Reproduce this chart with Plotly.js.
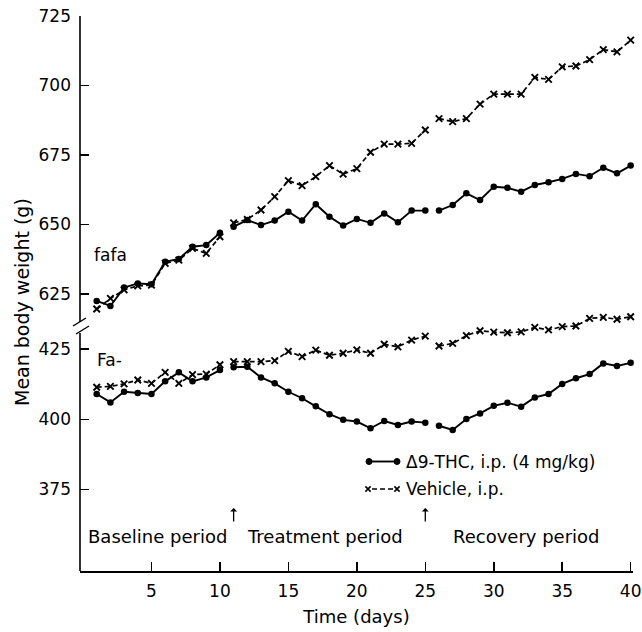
<!DOCTYPE html>
<html><head><meta charset="utf-8">
<script src="https://cdn.plot.ly/plotly-3.0.1.min.js"></script>
<style>html,body{margin:0;padding:0;background:#fff}#chart{width:642px;height:632px}</style>
</head><body><div id="chart"></div>
<script>
// ---- data ----
const days = [1,2,3,4,5,6,7,8,9,10,11,12,13,14,15,16,17,18,19,20,21,22,23,24,25,26,27,28,29,30,31,32,33,34,35,36,37,38,39,40];
const fafaTHC = [622.5,620.7,627.3,628.8,628.5,636.6,637.6,642.0,642.6,647.0,
  649.2,651.6,649.8,651.4,654.6,651.4,657.3,652.8,649.6,652.0,650.6,654.0,650.8,655.0,655.0,
  655.0,657.0,661.2,658.8,663.6,663.2,661.8,664.2,665.2,666.4,668.2,667.4,670.4,668.4,671.2];
const fafaVehicle = [619.6,623.4,626.5,627.9,628.2,636.0,637.2,641.4,639.6,645.6,
  650.6,651.8,655.2,660.0,665.8,664.0,667.2,671.2,668.1,670.1,676.0,678.9,678.9,679.2,684.0,
  688.1,687.0,688.1,693.3,696.9,696.9,696.9,702.9,702.2,706.7,707.0,709.3,712.9,712.1,716.3];
const faTHC = [409.0,406.0,409.8,409.4,409.0,413.5,416.7,413.5,414.9,417.5,
  418.5,418.7,414.9,412.8,409.8,407.5,404.6,401.8,399.8,399.2,396.8,399.4,398.0,399.2,398.8,
  397.7,396.2,400.1,402.1,404.8,405.9,404.5,407.8,409.0,412.6,414.6,416.1,419.9,419.0,420.1];
const faVehicle = [411.4,411.7,412.6,414.0,412.8,416.7,412.8,415.9,416.1,419.4,
  420.5,420.5,420.5,420.9,424.2,422.3,424.6,422.8,423.5,424.7,423.5,426.7,425.8,428.2,429.6,
  426.1,427.0,429.8,431.5,431.0,430.8,431.1,432.7,431.8,433.0,433.2,435.9,436.3,435.6,436.5];
const periodBounds = [[0,10],[10,25],[25,40]];
const periodLabels = ["Baseline period","Treatment period","Recovery period"];
const periodStartDays = [11,25];
const xTicks = [5,10,15,20,25,30,35,40];
const upperTicks = [625,650,675,700,725];
const lowerTicks = [375,400,425];
const seriesNames = ["Δ9-THC, i.p. (4 mg/kg)","Vehicle, i.p."];
const groupLabels = ["fafa","Fa-"];

// ---- geometry helpers (pixel -> paper) ----
const L=80, R=9, T=16, B=61, W=642, H=632;
const PW=W-L-R, PH=H-T-B;
const px = x => (x-L)/PW;
const py = y => (H-B-y)/PH;

const thcStyle = {line:{color:'#000',width:1.9}, marker:{symbol:'circle',size:6.5,color:'#000'}};
const vehStyle = {line:{color:'#000',width:1.7,dash:'5px,3px'}, marker:{symbol:'x-thin',size:6.5,color:'#000',line:{width:1.9,color:'#000'}}};

const traces = [];
function addSeries(vals, yaxis, style, name){
  periodBounds.forEach(([a,b])=>{
    traces.push(Object.assign({
      type:'scatter', mode:'lines+markers', name:name, showlegend:false,
      x: days.slice(a,b), y: vals.slice(a,b), xaxis:'x', yaxis:yaxis, cliponaxis:false
    }, JSON.parse(JSON.stringify(style))));
  });
}
addSeries(fafaVehicle,'y2',vehStyle,seriesNames[1]);
addSeries(fafaTHC,'y2',thcStyle,seriesNames[0]);
addSeries(faVehicle,'y',vehStyle,seriesNames[1]);
addSeries(faTHC,'y',thcStyle,seriesNames[0]);

const tickCommon = {ticks:'inside', ticklen:9, tickwidth:1.5, tickcolor:'#000', showgrid:false, zeroline:false,
  showline:false, tickfont:{size:17,color:'#000'}, ticklabelstandoff:8, fixedrange:true};

const shapes = [
  // broken y axis
  {type:'line', xref:'paper', yref:'paper', x0:0, x1:0, y0:py(322), y1:1, line:{color:'#000',width:1.6}},
  {type:'line', xref:'paper', yref:'paper', x0:0, x1:0, y0:0, y1:py(333), line:{color:'#000',width:1.6}},
  {type:'line', xref:'paper', yref:'paper', x0:px(73), x1:px(86), y0:py(326), y1:py(318), line:{color:'#000',width:1.4}},
  {type:'line', xref:'paper', yref:'paper', x0:px(76), x1:px(89), y0:py(334), y1:py(326), line:{color:'#000',width:1.4}},
  // legend samples
  {type:'line', xref:'paper', yref:'paper', x0:px(369), x1:px(397), y0:py(461.5), y1:py(461.5), line:{color:'#000',width:1.9}},
  {type:'circle', xref:'paper', yref:'paper', fillcolor:'#000', line:{color:'#000',width:1}, x0:px(366), x1:px(372), y0:py(464.5), y1:py(458.5)},
  {type:'circle', xref:'paper', yref:'paper', fillcolor:'#000', line:{color:'#000',width:1}, x0:px(394), x1:px(400), y0:py(464.5), y1:py(458.5)},
  {type:'line', xref:'paper', yref:'paper', x0:px(372), x1:px(394), y0:py(489), y1:py(489), line:{color:'#000',width:1.5,dash:'5px,3px'}},
];
function xMark(cx,cy){
  const d=2.6;
  return {type:'path', xref:'paper', yref:'paper', line:{color:'#000',width:1.6},
    path:`M ${px(cx-d)} ${py(cy-d)} L ${px(cx+d)} ${py(cy+d)} M ${px(cx-d)} ${py(cy+d)} L ${px(cx+d)} ${py(cy-d)}`};
}
shapes.push(xMark(368,489), xMark(397,489));

const annotations = [
  {xref:'paper', yref:'paper', x:px(92), y:py(255), xanchor:'left', yanchor:'middle', text:groupLabels[0], showarrow:false, font:{size:17}},
  {xref:'paper', yref:'paper', x:px(95), y:py(360), xanchor:'left', yanchor:'middle', text:groupLabels[1], showarrow:false, font:{size:17}},
  {xref:'paper', yref:'paper', x:px(157), y:py(536), xanchor:'center', yanchor:'middle', text:periodLabels[0], showarrow:false, font:{size:18}},
  {xref:'paper', yref:'paper', x:px(325), y:py(536), xanchor:'center', yanchor:'middle', text:periodLabels[1], showarrow:false, font:{size:18}},
  {xref:'paper', yref:'paper', x:px(526), y:py(536), xanchor:'center', yanchor:'middle', text:periodLabels[2], showarrow:false, font:{size:18}},
  {xref:'paper', yref:'paper', x:px(404), y:py(461.5), xanchor:'left', yanchor:'middle', text:seriesNames[0], showarrow:false, font:{size:17}},
  {xref:'paper', yref:'paper', x:px(404), y:py(489), xanchor:'left', yanchor:'middle', text:seriesNames[1], showarrow:false, font:{size:17}},
  {xref:'paper', yref:'paper', x:px(22), y:py(302), xanchor:'center', yanchor:'middle', textangle:-90, text:'Mean body weight (g)', showarrow:false, font:{size:19}},
];
periodStartDays.forEach(d=>{
  annotations.push({xref:'x', yref:'paper', x:d, y:py(508), ax:0, ay:15, text:'', showarrow:true,
    arrowhead:1, arrowsize:0.9, arrowwidth:1.3, arrowcolor:'#000'});
});

const layout = {
  width:W, height:H, margin:{l:L,r:R,t:T,b:B,pad:0},
  paper_bgcolor:'#fff', plot_bgcolor:'rgba(0,0,0,0)', showlegend:false,
  font:{family:'DejaVu Sans, sans-serif', color:'#000', size:17},
  xaxis:{range:[-0.22,40.17], tickvals:xTicks, ticks:'inside', ticklen:9, tickwidth:1.5, tickcolor:'#000',
    showline:true, linewidth:1.6, linecolor:'#000', showgrid:false, zeroline:false, anchor:'y',
    tickfont:{size:17}, ticklabelstandoff:4, title:{text:'Time (days)', font:{size:18}, standoff:10}, fixedrange:true},
  yaxis: Object.assign({domain:[0,py(300)], range:[346.0,442.46], tickvals:lowerTicks, anchor:'x'}, tickCommon),
  yaxis2: Object.assign({domain:[py(330),1], range:[612.05,725], tickvals:upperTicks, anchor:'x'}, tickCommon),
  shapes: shapes,
  annotations: annotations
};
Plotly.newPlot('chart', traces, layout, {displayModeBar:false, staticPlot:true});
</script>
</body></html>
